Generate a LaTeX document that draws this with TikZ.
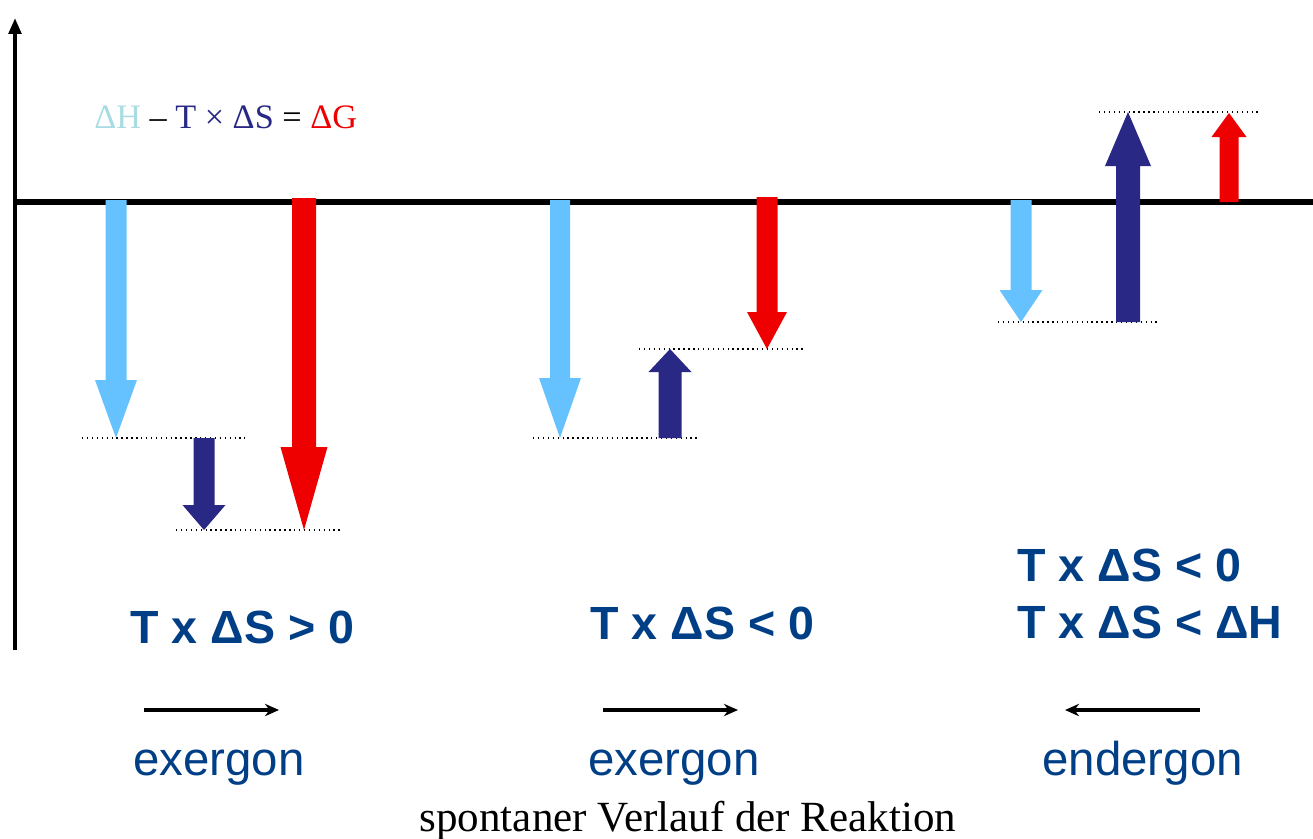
\documentclass[tikz,border=0pt]{standalone}
\usepackage{fontspec}
\setmainfont{Liberation Serif}
\setsansfont{Liberation Sans}
\usepackage{xcolor}
\usetikzlibrary{arrows.meta}
\definecolor{enthalpy}{RGB}{102,194,255}
\definecolor{entropy}{RGB}{41,40,132}
\definecolor{gibbs}{RGB}{238,0,0}
\definecolor{eqlight}{RGB}{168,220,226}
\definecolor{textblue}{RGB}{0,62,134}

\begin{document}
\begin{tikzpicture}[x=0.02cm, y=-0.02cm,
    axis/.style = {line width=2.5pt},
    level/.style = {dotted, line width=0.8pt},
    cond/.style = {font=\sffamily\bfseries\fontsize{26.5}{32}\selectfont,
        text=textblue, inner sep=0pt, anchor=base west},
    kind/.style = {font=\sffamily\fontsize{27}{32}\selectfont,
        text=textblue, inner sep=0pt, anchor=base west},
    dir/.style = {line width=1.8pt, -{Stealth[length=8pt,width=7pt]}}]

\useasboundingbox (0,0) rectangle (1313,839);

% Axes
\draw[axis, -{Triangle[length=9pt,width=7pt]}] (15,650) -- (15,18);
\draw[axis, line width=3pt] (13,202) -- (1313,202);

% Levels
\draw[level] (82,438) -- (245,438);
\draw[level] (176,530) -- (340,530);
\draw[level] (533,438) -- (697,438);
\draw[level] (639,349) -- (803,349);
\draw[level] (998,322) -- (1160,322);
\draw[level] (1099,112) -- (1260,112);

% Block arrows: dH, T x dS, dG
\foreach \x/\ya/\yb/\yh/\s/\h/\c in {
    116/200/438/380/10.5/21/enthalpy,
    204/438/530/505/10.5/21.5/entropy,
    304/198/530/447/12/23.5/gibbs,
    560/200/438/378/10/21/enthalpy,
    670/438/349/372/11.5/21.5/entropy,
    767/197/349/312/10.5/20/gibbs,
    1021/200/322/290/10.5/21.5/enthalpy,
    1128/322/112/166/12/23/entropy,
    1229/202/113/137/9.5/17.5/gibbs}
    \fill[\c] ({\x-\s},\ya) -- ({\x-\s},\yh) -- ({\x-\h},\yh) -- (\x,\yb)
        -- ({\x+\h},\yh) -- ({\x+\s},\yh) -- ({\x+\s},\ya) -- cycle;

% Equation
\node[anchor=base west, inner sep=0pt, font=\fontsize{19.5}{23}\selectfont] (eq)
    at (94,128) {\textcolor{eqlight}{ΔH} – \textcolor{entropy}{T × ΔS} = \textcolor{gibbs}{ΔG}};

% Conditions
\node[cond] (condA) at (130,643) {T x ΔS > 0};
\node[cond] (condB) at (590,639) {T x ΔS < 0};
\node[cond] (condC) at (1017,581) {T x ΔS < 0};
\node[cond] (condD) at (1017,638) {T x ΔS < ΔH};

% Direction
\coordinate (dirAs) at (144,710);
\coordinate (dirAe) at (279,710);
\coordinate (dirBs) at (603,710);
\coordinate (dirBe) at (738,710);
\coordinate (dirCs) at (1200,710);
\coordinate (dirCe) at (1065,710);
\draw[dir] (dirAs) -- (dirAe);
\draw[dir] (dirBs) -- (dirBe);
\draw[dir] (dirCs) -- (dirCe);

% Kinds
\node[kind] (kindA) at (133,775) {exergon};
\node[kind] (kindB) at (588,775) {exergon};
\node[kind] (kindC) at (1042,775) {endergon};

% Caption
\node[anchor=base, inner sep=0pt, font=\fontsize{24.5}{29}\selectfont] (path)
    at (688,831) {spontaner Verlauf der Reaktion};
\end{tikzpicture}
\end{document}
